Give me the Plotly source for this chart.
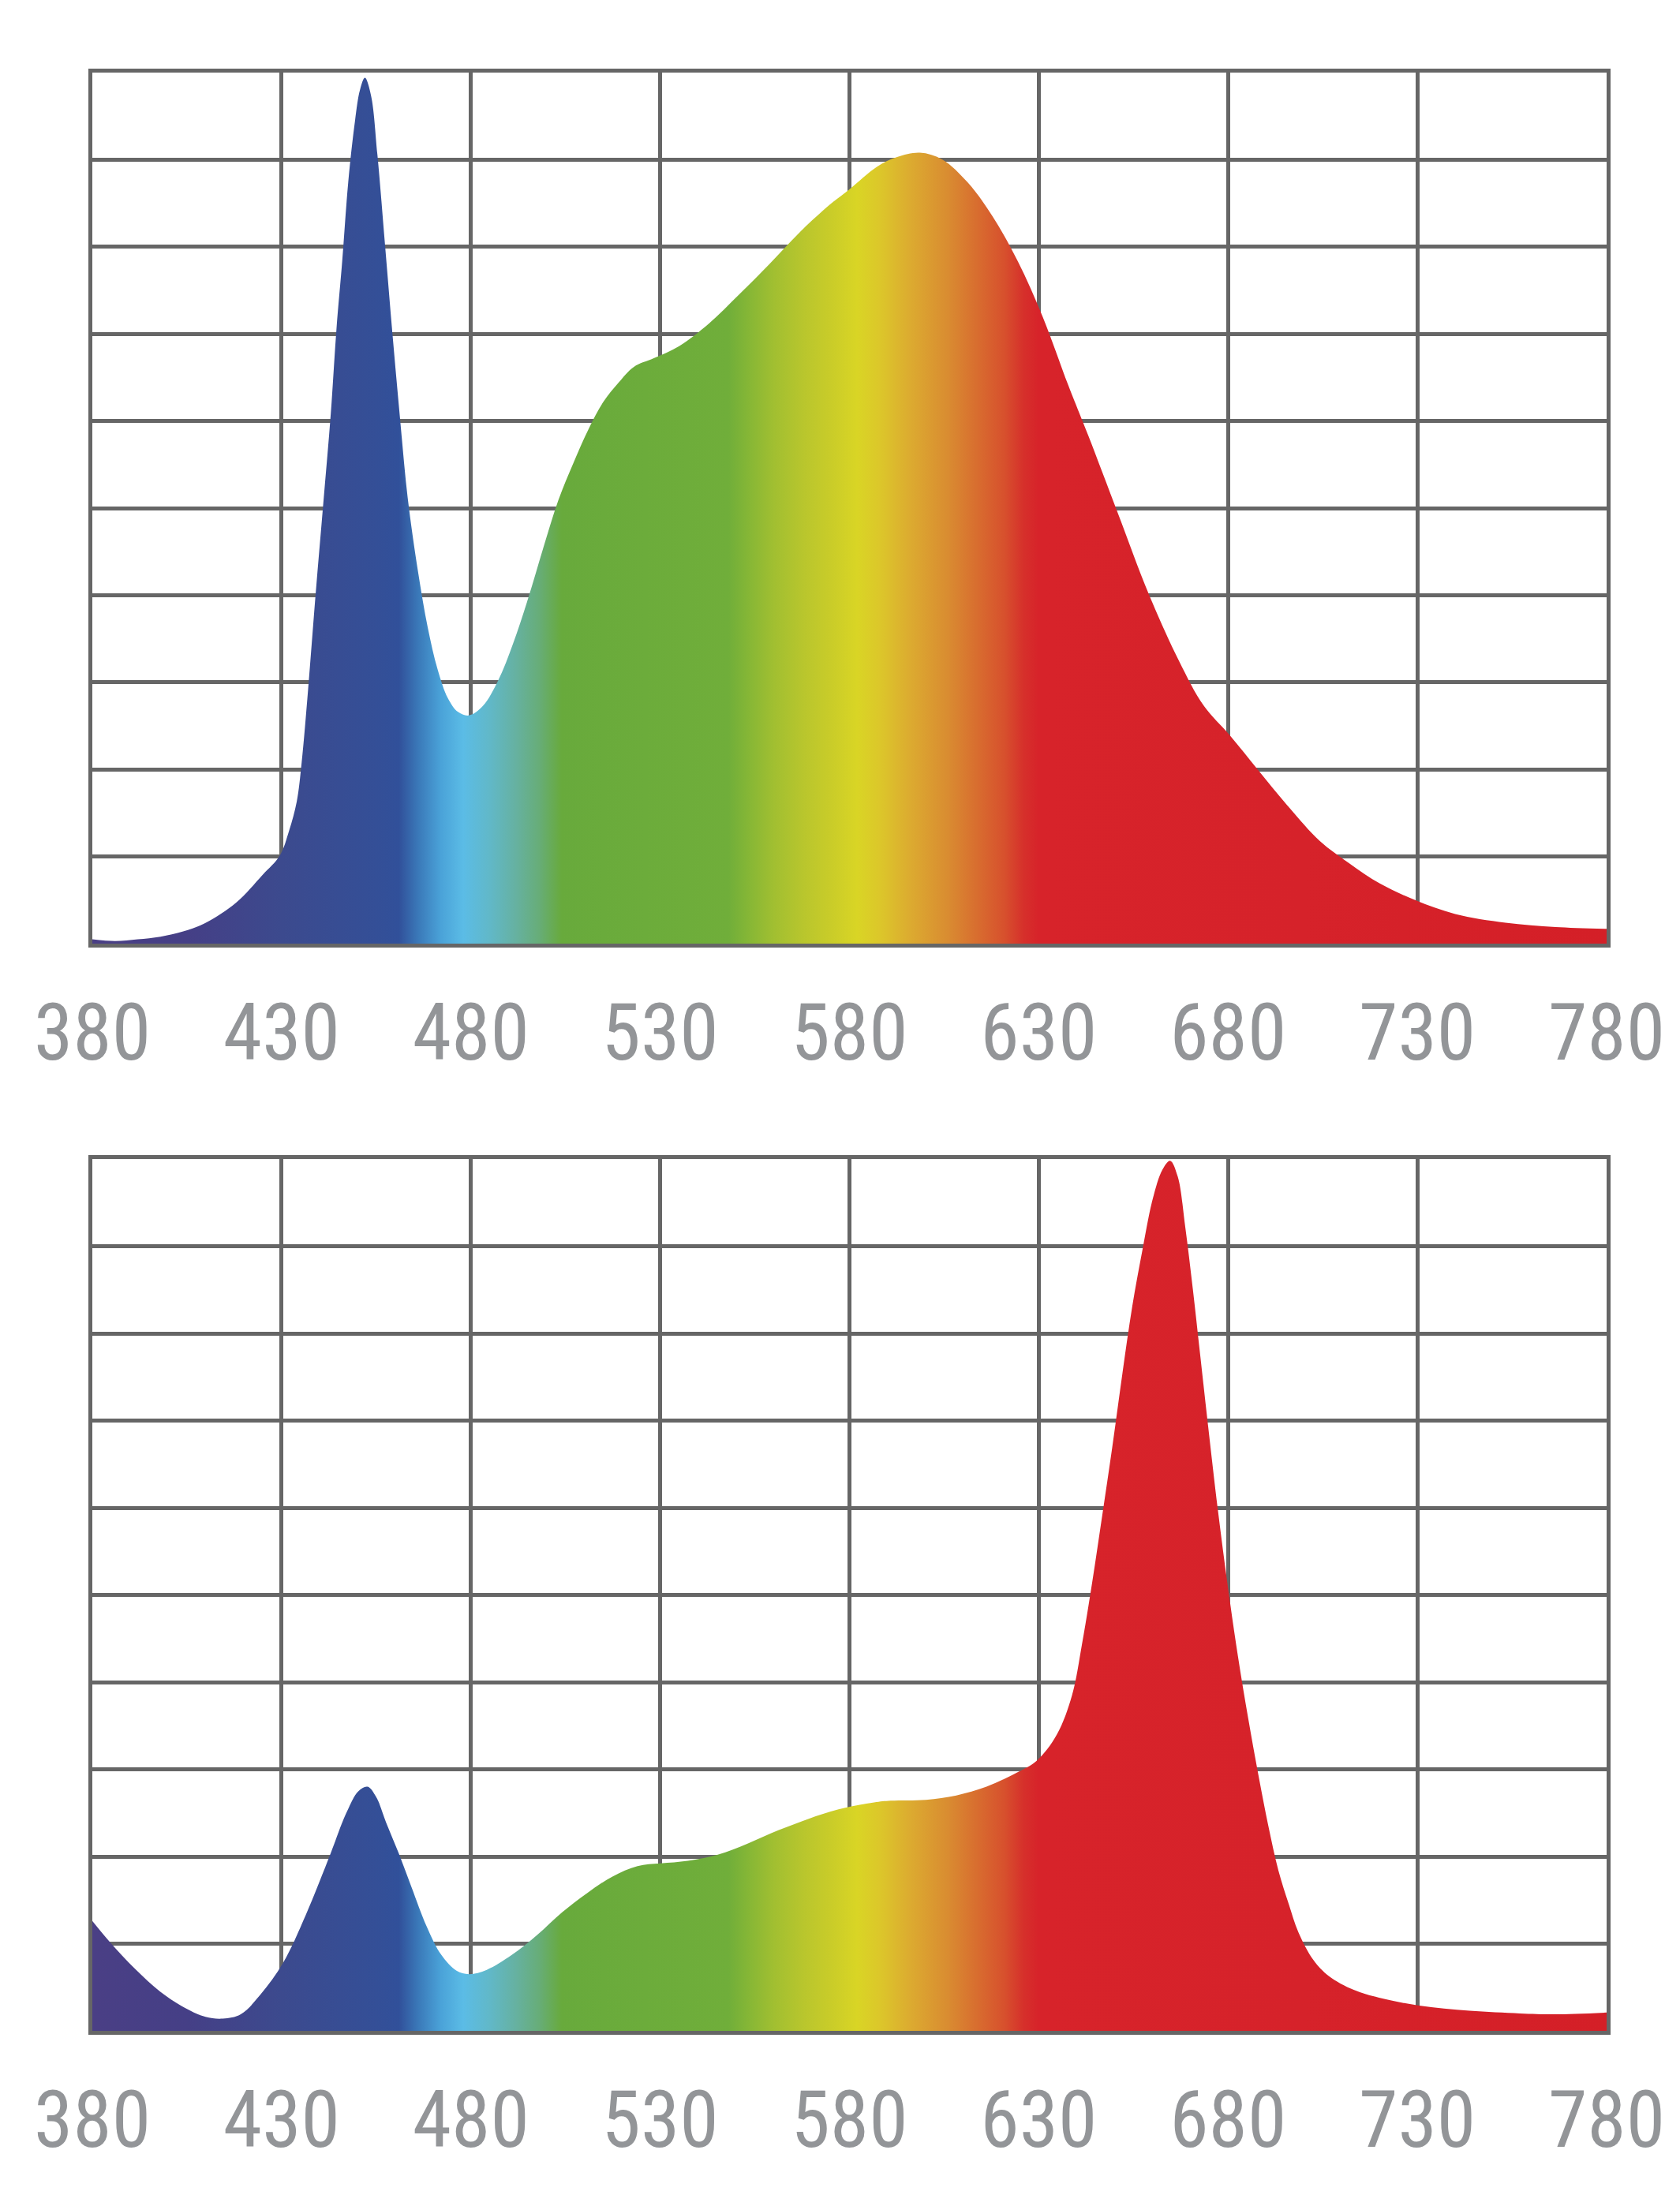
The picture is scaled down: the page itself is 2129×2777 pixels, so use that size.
import plotly.graph_objects as go

# wavelength (nm) / relative intensity (0-10 grid units)
wl_top = [380, 386, 392, 398, 404, 410, 418, 425, 429.5, 432, 434, 435.3, 437, 439,
          441, 443, 444.5, 446, 447.6, 449.4, 450.7, 452, 453.6, 455.3, 457.3, 459.3,
          461.3, 463.3, 466, 468.6, 471.2, 473.9, 476.6, 479.5, 483.2, 487.2, 491.1,
          495.1, 499.1, 503.1, 507, 511, 515, 519, 523, 528.3, 535, 542.9, 550.8,
          558.8, 566.7, 574.7, 580, 587.3, 592.6, 598.6, 604.6, 611.2, 617.8, 624.5,
          631.1, 637.8, 643.1, 651, 659, 667, 673.6, 680.3, 688.2, 696.2, 704.2,
          712.1, 720.1, 729.4, 740, 753.3, 766.6, 780]
val_top = [0.05, 0.03, 0.05, 0.08, 0.14, 0.24, 0.47, 0.79, 1.01, 1.3, 1.63, 2.08, 2.92, 4.02,
           5.05, 6.09, 7.06, 7.83, 8.74, 9.45, 9.8, 9.94, 9.74, 9.06, 8.03, 6.99,
           6.02, 5.12, 4.28, 3.63, 3.15, 2.82, 2.66, 2.62, 2.73, 3.02, 3.44,
           3.96, 4.54, 5.09, 5.51, 5.9, 6.22, 6.44, 6.62, 6.72, 6.86, 7.12, 7.45,
           7.8, 8.16, 8.48, 8.66, 8.92, 9.03, 9.08, 9.0, 8.74, 8.35, 7.83,
           7.19, 6.41, 5.83, 4.93, 4.02, 3.25, 2.73, 2.4, 1.98, 1.56, 1.18,
           0.92, 0.69, 0.5, 0.34, 0.24, 0.19, 0.17]

wl_bottom = [380, 384.6, 391.3, 397.9, 404.6, 409.9, 414.5, 419.2, 424.5, 430.4, 436.4,
             443, 447, 450.3, 452.7, 455, 457.6, 460.9, 464.3, 468.3, 472.2, 476.2,
             479.5, 484.2, 490.8, 497.5, 504.1, 510.7, 517.4, 524, 530.1, 537.3,
             545.2, 553.2, 561.2, 569.1, 577.1, 586.5, 590.9, 600.2, 608.2, 616.2,
             624.1, 629.5, 634.8, 638.8, 641.4, 644.1, 646.8, 649.4, 652.1, 654.7,
             657.4, 660.1, 662.7, 664.7, 666.7, 668.7, 670.7, 672.7, 674.7, 677.3,
             680, 682.6, 685.3, 688, 690.6, 693.3, 696, 698.6, 702.6, 706.6, 713.2,
             719.9, 730.5, 743.8, 757.1, 766.4, 780]
val_bottom = [1.26, 1.02, 0.71, 0.45, 0.26, 0.16, 0.14, 0.19, 0.42, 0.78, 1.33,
              2.04, 2.49, 2.75, 2.8, 2.68, 2.39, 2.04, 1.65, 1.2, 0.87, 0.69,
              0.65, 0.7, 0.87, 1.1, 1.36, 1.58, 1.77, 1.89, 1.92, 1.95,
              2.02, 2.15, 2.3, 2.43, 2.54, 2.62, 2.64, 2.65, 2.7, 2.8,
              2.96, 3.1, 3.4, 3.85, 4.43, 5.14, 5.92, 6.69, 7.54, 8.31,
              8.96, 9.54, 9.88, 9.98, 9.8, 9.22, 8.51, 7.73, 6.95, 5.98,
              5.08, 4.3, 3.59, 2.94, 2.36, 1.84, 1.46, 1.13, 0.81, 0.63, 0.47,
              0.38, 0.29, 0.23, 0.2, 0.19, 0.21]

tick_vals = [380, 430, 480, 530, 580, 630, 680, 730, 780]
tick_text = ["380", "430", "480", "530", "580", "630", "680", "730", "780"]

# spectrum colours by wavelength
spec_nm = [380, 405, 430, 455, 461, 466, 472, 478, 485, 492, 498, 504, 548, 553, 560,
           568, 575, 582, 588, 596, 606, 614, 621, 626, 630, 700, 780]
spec_col = ["#4a3f85", "#453f86", "#3c4a8e", "#344f97", "#31509a", "#3a78b8", "#4aa2d8",
            "#5bbce6", "#61b8c8", "#66b1a0", "#67ad78", "#68aa3c", "#70ae3a", "#84b636",
            "#a1bf31", "#b9c62d", "#c9cc29", "#d9d525", "#dcc72a", "#dcab30", "#d98c31",
            "#d86c2f", "#d7502d", "#d6302b", "#d7232a", "#d6222a", "#d41f27"]

colorscale = [[(nm - 380) / 400, c] for nm, c in zip(spec_nm, spec_col)]

W, H = 2129, 2777
GRID = "#666666"
LABEL = "#939598"
FONT = "Roboto Condensed, DejaVu Sans Condensed, Liberation Sans Narrow, Roboto, sans-serif"


def spectrum_trace(x, y, xa, ya):
    return go.Scatter(
        x=x, y=y, xaxis=xa, yaxis=ya,
        mode="lines",
        line=dict(width=0, shape="spline", smoothing=1.0),
        fill="tozeroy",
        fillgradient=dict(type="horizontal", colorscale=colorscale, start=380, stop=780),
        hoverinfo="skip",
        showlegend=False,
    )


fig = go.Figure()
fig.add_trace(spectrum_trace(wl_top, val_top, "x", "y"))
fig.add_trace(spectrum_trace(wl_bottom, val_bottom, "x2", "y2"))

x_dom = [109 / W, 2028 / W]
top_dom = [1 - 1188 / H, 1 - 84 / H]
bot_dom = [1 - 2566 / H, 1 - 1461 / H]

xcommon = dict(
    range=[380, 780], tickvals=tick_vals, ticktext=tick_text,
    showgrid=True, gridcolor=GRID, gridwidth=4.5, zeroline=False,
    showline=True, linecolor=GRID, linewidth=4.5, mirror=True,
    ticks="", ticklabelstandoff=22, automargin=False,
    tickfont=dict(family=FONT, size=100, color=LABEL),
    fixedrange=True,
)
ycommon = dict(
    range=[0, 10], dtick=1, tick0=0,
    showgrid=True, gridcolor=GRID, gridwidth=4.5, zeroline=False,
    showline=True, linecolor=GRID, linewidth=4.5, mirror=True,
    showticklabels=False, ticks="", automargin=False, fixedrange=True,
)

fig.update_layout(
    width=W, height=H,
    margin=dict(l=0, r=0, t=0, b=0, autoexpand=False),
    paper_bgcolor="white", plot_bgcolor="white",
    xaxis=dict(domain=x_dom, anchor="y", **xcommon),
    yaxis=dict(domain=top_dom, anchor="x", **ycommon),
    xaxis2=dict(domain=x_dom, anchor="y2", **xcommon),
    yaxis2=dict(domain=bot_dom, anchor="x2", **ycommon),
)

fig.write_html("out.html")
